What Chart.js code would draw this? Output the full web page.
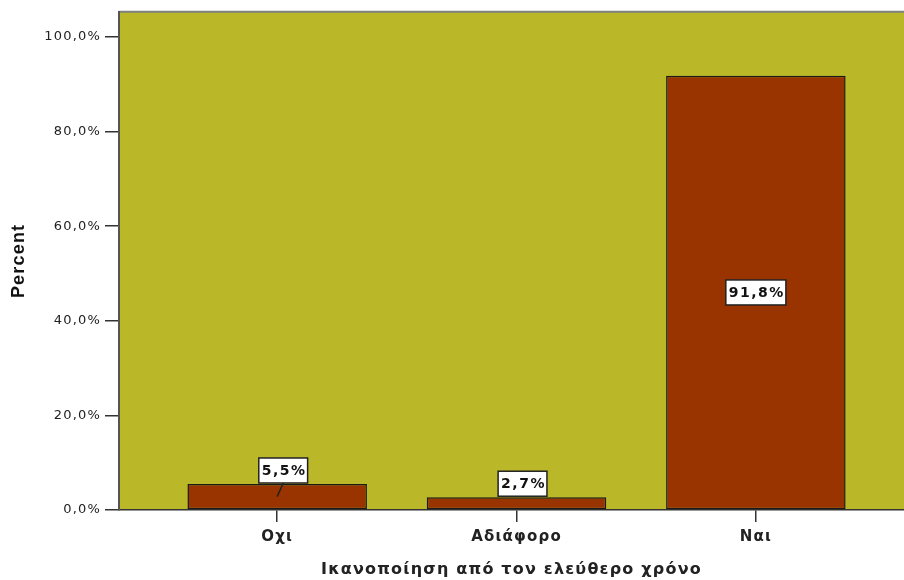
<!DOCTYPE html>
<html>
<head>
<meta charset="utf-8">
<script src="https://cdn.jsdelivr.net/npm/chart.js@4/dist/chart.umd.min.js"></script>
<style>
  html, body { margin: 0; padding: 0; background: #fff; overflow: hidden; }
  #wrap { width: 904px; height: 580px; position: relative; }
</style>
</head>
<body>
<div id="wrap"><canvas id="satisfactionChart"></canvas></div>
<script>
const categories = ["Οχι", "Αδιάφορο", "Ναι"];
const percentValues = [5.5, 2.7, 91.8];
const percentTicks = [0, 20, 40, 60, 80, 100];
const xAxisTitle = "Ικανοποίηση από τον ελεύθερο χρόνο";
const yAxisTitle = "Percent";

const formatPercent = (v) => v.toFixed(1).replace(".", ",") + "%";

// olive plot background + grey top border; wide letter spacing for axis text
const plotBackground = {
    id: "plotBackground",
    beforeDraw(chart) {
        const { ctx, chartArea } = chart;
        ctx.save();
        ctx.fillStyle = "#bab829";
        ctx.fillRect(chartArea.left, chartArea.top, chartArea.right - chartArea.left, chartArea.bottom - chartArea.top);
        ctx.strokeStyle = "#808080";
        ctx.lineWidth = 2;
        ctx.beginPath();
        ctx.moveTo(chartArea.left, chartArea.top);
        ctx.lineTo(chartArea.right, chartArea.top);
        ctx.stroke();
        ctx.restore();
        ctx.letterSpacing = "1.2px";
    }
};

// white boxed value labels
const valueLabels = {
    id: "valueLabels",
    afterDatasetsDraw(chart) {
        const ctx = chart.ctx;
        const meta = chart.getDatasetMeta(0);
        meta.data.forEach((bar, i) => {
            const text = formatPercent(percentValues[i]);
            ctx.save();
            ctx.letterSpacing = "1.5px";
            ctx.font = "bold 14px 'DejaVu Sans'";
            const w = ctx.measureText(text).width + 4;
            const h = 25;
            const barH = bar.base - bar.y;
            const inside = barH > h * 2;
            const cx = inside ? bar.x : bar.x + 6;
            const cy = inside ? (bar.y + bar.base) / 2 : bar.y - h / 2 - 1;
            if (!inside && barH > 20) {
                ctx.strokeStyle = "#222";
                ctx.lineWidth = 1.5;
                ctx.beginPath();
                ctx.moveTo(cx, cy + h / 2);
                ctx.lineTo(bar.x, (bar.y + bar.base) / 2);
                ctx.stroke();
            }
            ctx.fillStyle = "#fff";
            ctx.fillRect(cx - w / 2, cy - h / 2, w, h);
            ctx.strokeStyle = "#222";
            ctx.lineWidth = 1.5;
            ctx.strokeRect(cx - w / 2, cy - h / 2, w, h);
            ctx.fillStyle = "#111";
            ctx.textAlign = "center";
            ctx.textBaseline = "middle";
            ctx.fillText(text, cx + 1, cy + 1);
            ctx.restore();
        });
    }
};

new Chart("satisfactionChart", {
    type: "bar",
    data: {
        datasets: [{
            label: yAxisTitle,
            data: categories.map((c, i) => ({ x: i, y: percentValues[i] })),
            backgroundColor: "#993300",
            borderColor: "#1a1a1a",
            borderWidth: 1.5,
            borderSkipped: false,
            categoryPercentage: 1,
            barPercentage: 0.75
        }]
    },
    options: {
        responsive: true,
        maintainAspectRatio: false,
        animation: false,
        layout: { padding: { top: 11, left: 0, right: 0, bottom: 0 } },
        plugins: {
            legend: { display: false },
            tooltip: { enabled: false }
        },
        scales: {
            x: {
                type: "linear",
                min: -0.661,
                max: 2.619,
                offset: false,
                afterFit: (scale) => { scale.height = 70; },
                afterBuildTicks: (scale) => { scale.ticks = categories.map((c, i) => ({ value: i })); },
                ticks: {
                    autoSkip: false,
                    maxRotation: 0,
                    padding: 6,
                    color: "#222",
                    font: { family: "DejaVu Sans", size: 15, weight: "bold" },
                    callback: (v) => categories[v]
                },
                grid: { offset: false, drawOnChartArea: false, drawTicks: true, tickLength: 12, color: "#333", lineWidth: 1.5 },
                border: { display: true, color: "#333", width: 1.5 },
                title: {
                    display: true,
                    text: xAxisTitle,
                    color: "#222",
                    font: { family: "DejaVu Sans", size: 16, weight: "bold" },
                    padding: { top: 0, bottom: 1 }
                }
            },
            y: {
                min: 0,
                max: 105.3,
                afterFit: (scale) => { scale.width = 119; },
                afterBuildTicks: (scale) => { scale.ticks = percentTicks.map((v) => ({ value: v })); },
                ticks: {
                    padding: 4,
                    color: "#222",
                    font: { family: "DejaVu Sans", size: 13 },
                    callback: (v) => formatPercent(v)
                },
                grid: { drawOnChartArea: false, drawTicks: true, tickLength: 14, color: "#333", lineWidth: 1.5 },
                border: { display: true, color: "#555", width: 2 },
                title: {
                    display: true,
                    text: yAxisTitle,
                    color: "#111",
                    font: { family: "'Liberation Sans Narrow', 'Liberation Sans'", size: 18, weight: "bold" },
                    padding: { top: 8, bottom: 0 }
                }
            }
        }
    },
    plugins: [plotBackground, valueLabels]
});
</script>
</body>
</html>
